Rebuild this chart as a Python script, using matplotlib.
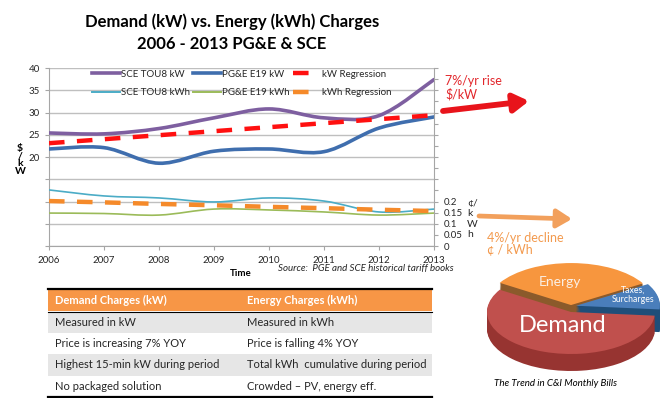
import matplotlib
matplotlib.use("Agg")
import matplotlib.pyplot as plt
from matplotlib.path import Path
from matplotlib.patches import PathPatch, Rectangle
from matplotlib.lines import Line2D

plt.rcParams['font.family'] = ['Lato', 'DejaVu Sans']

# data
years = [2006, 2007, 2008, 2009, 2010, 2011, 2012, 2013]
sce_kw = [25.4, 25.2, 26.4, 28.8, 30.8, 28.8, 29.3, 37.4]
pge_kw = [21.8, 22.1, 18.6, 21.3, 21.8, 21.2, 26.5, 29.0]
kw_reg = [23.1, 24.0, 24.9, 25.8, 26.7, 27.6, 28.5, 29.4]
sce_kwh = [0.252, 0.225, 0.216, 0.198, 0.216, 0.202, 0.153, 0.166]
pge_kwh = [0.148, 0.146, 0.139, 0.166, 0.162, 0.153, 0.139, 0.148]
kwh_reg = [0.202, 0.196, 0.189, 0.183, 0.176, 0.170, 0.163, 0.157]

left_ticks = [0, 5, 10, 15, 20, 25, 30, 35, 40]
left_labels = ['', '', '', '', '20', '25', '30', '35', '40']
right_ticks = [i * 0.05 for i in range(17)]
right_labels = ['0', '0.05', '0.1', '0.15', '0.2'] + [''] * 12

table_head = ['Demand Charges (kW)', 'Energy Charges (kWh)']
table_col1 = ['Measured in kW', 'Price is increasing 7% YOY',
              'Highest 15-min kW during period', 'No packaged solution']
table_col2 = ['Measured in kWh', 'Price is falling 4% YOY',
              'Total kWh  cumulative during period', 'Crowded \u2013 PV, energy eff.']

pie_labels = ['Taxes,\nSurcharges', 'Energy', 'Demand']
pie_vals = [10, 32.5, 57.5]

W, H = 666, 398
fig = plt.figure(figsize=(W / 100, H / 100), dpi=100)

PURPLE = '#7E5FA0'
BLUE = '#3F6EAE'
LBLUE = '#4BACC6'
GREEN = '#9BBB59'
RED = '#FF1010'
ORANGE = '#F58A2A'
GRID = '#BFBFBF'
TXT = '#262626'


def smooth(x, y):
    # catmull-rom style bezier through the data points (like excel smoothed lines)
    pts = list(zip(x, y))
    verts = [pts[0]]
    codes = [Path.MOVETO]
    n = len(pts)
    for i in range(n - 1):
        p0 = pts[max(i - 1, 0)]
        p1 = pts[i]
        p2 = pts[i + 1]
        p3 = pts[min(i + 2, n - 1)]
        c1 = (p1[0] + (p2[0] - p0[0]) / 6, p1[1] + (p2[1] - p0[1]) / 6)
        c2 = (p2[0] - (p3[0] - p1[0]) / 6, p2[1] - (p3[1] - p1[1]) / 6)
        verts += [c1, c2, p2]
        codes += [Path.CURVE4] * 3
    return Path(verts, codes)


# overlay axes in pixel coords for table + arrows
ov = fig.add_axes([0, 0, 1, 1])
ov.set_xlim(0, W)
ov.set_ylim(H, 0)
ov.axis('off')

# main chart
ax = fig.add_axes([49 / W, 1 - 246 / H, 385 / W, 178 / H])
ax.patch.set_alpha(0)
ax2 = ax.twinx()

ax.set_xlim(2006, 2013)
ax.set_ylim(0, 40)
ax.set_yticks(left_ticks)
ax.set_yticklabels(left_labels)
ax.set_xticks(years)
ax.set_xticklabels([str(y) for y in years])
ax.grid(axis='y', color=GRID, lw=1.0)
ax.set_axisbelow(True)
for s in ['top', 'right']:
    ax.spines[s].set_visible(False)
for s in ['left', 'bottom']:
    ax.spines[s].set_color('#A6A6A6')
ax.tick_params(axis='both', labelsize=7, colors='#A6A6A6', labelcolor=TXT, length=3)
ax.tick_params(axis='x', pad=4)

ax2.set_ylim(0, 0.8)
ax2.set_yticks(right_ticks)
ax2.set_yticklabels(right_labels)
ax2.tick_params(axis='y', labelsize=7, colors='#A6A6A6', labelcolor=TXT, length=3, pad=4)
for s in ['top', 'left', 'bottom']:
    ax2.spines[s].set_visible(False)
ax2.spines['right'].set_color('#A6A6A6')

ax.add_patch(PathPatch(smooth(years, sce_kw), fill=False, ec=PURPLE, lw=2.6, capstyle='round', zorder=3))
ax.add_patch(PathPatch(smooth(years, pge_kw), fill=False, ec=BLUE, lw=2.6, capstyle='round', zorder=3))
ax.plot(years, kw_reg, color=RED, lw=3.2, dashes=(3.5, 2.8), zorder=4)
ax2.add_patch(PathPatch(smooth(years, sce_kwh), fill=False, ec=LBLUE, lw=1.2, zorder=3))
ax2.add_patch(PathPatch(smooth(years, pge_kwh), fill=False, ec=GREEN, lw=1.2, zorder=3))
ax2.plot(years, kwh_reg, color=ORANGE, lw=3.2, dashes=(3.5, 2.8), zorder=4)

handles = [
    Line2D([], [], color=PURPLE, lw=2.6),
    Line2D([], [], color=LBLUE, lw=1.4),
    Line2D([], [], color=BLUE, lw=2.6),
    Line2D([], [], color=GREEN, lw=1.4),
    Line2D([], [], color=RED, lw=3.2, dashes=(3.5, 2.8)),
    Line2D([], [], color=ORANGE, lw=3.2, dashes=(3.5, 2.8)),
]
labels = ['SCE TOU8 kW', 'SCE TOU8 kWh', 'PG&E E19 kW', 'PG&E E19 kWh',
          'kW Regression', 'kWh Regression']
ax2.legend(handles, labels, ncol=3, frameon=False, fontsize=7, loc='upper left',
           bbox_to_anchor=(0.09, 1.04), handlelength=2.8, handletextpad=0.15,
           columnspacing=0.35, labelspacing=1.0, labelcolor=TXT)

# titles and labels
fig.text(232 / W, 1 - 22 / H, 'Demand (kW) vs. Energy (kWh) Charges', ha='center', va='center',
         fontsize=12, fontweight='bold', color='black')
fig.text(232 / W, 1 - 44 / H, '2006 - 2013 PG&E & SCE', ha='center', va='center',
         fontsize=12, fontweight='bold', color='black')
fig.text(20 / W, 1 - 160 / H, '$\n/\nk\nW', ha='center', va='center', fontsize=7.5,
         fontweight='bold', linespacing=0.8, color='black')
fig.text(467 / W, 1 - 219 / H, '\u00a2/\nk\nW\nh', ha='left', va='center', fontsize=7.5,
         linespacing=1.2, color=TXT)
fig.text(241 / W, 1 - 273 / H, 'Time', ha='center', va='center', fontsize=7,
         fontweight='bold', color='black')
fig.text(278 / W, 1 - 268 / H, 'Source:  PGE and SCE historical tariff books', ha='left',
         va='center', fontsize=7, style='italic', color=TXT)

# annotations
ov.text(445, 88, '7%/yr rise\n$/kW', color='#E2262B', fontsize=9, va='center', ha='left',
        linespacing=1.1)
ov.annotate('', xy=(529, 101), xytext=(443, 111),
            arrowprops=dict(arrowstyle='-|>,head_length=0.9,head_width=0.55', lw=4.2,
                            color='#E8141B', shrinkA=0, shrinkB=0))
ov.text(487, 244, '4%/yr decline\n\u00a2 / kWh', color='#F39A4E', fontsize=9, va='center',
        ha='left', linespacing=1.1)
ov.annotate('', xy=(572, 219), xytext=(479, 216),
            arrowprops=dict(arrowstyle='-|>,head_length=0.9,head_width=0.55', lw=3.4,
                            color='#F2A05C', shrinkA=0, shrinkB=0))

# table
tx0, tx1, col2 = 48, 432, 245
ov.add_patch(Rectangle((tx0, 289), tx1 - tx0, 22, color='#F79646', lw=0))
ov.plot([tx0, tx1], [288.5, 288.5], color='black', lw=1.6)
ov.plot([tx0, tx1], [311.5, 311.5], color='black', lw=0.8)
ov.text(55, 300.5, table_head[0], color='white', fontsize=8, fontweight='bold', va='center')
ov.text(col2 + 2, 300.5, table_head[1], color='white', fontsize=8, fontweight='bold', va='center')
row_h = 21.2
for i, (a, b) in enumerate(zip(table_col1, table_col2)):
    y0 = 312 + i * row_h
    if i % 2 == 0:
        ov.add_patch(Rectangle((tx0, y0), tx1 - tx0, row_h, color='#E6E6E6', lw=0))
    ov.text(55, y0 + row_h / 2, a, color=TXT, fontsize=8, va='center')
    ov.text(col2 + 2, y0 + row_h / 2, b, color=TXT, fontsize=8, va='center')
ov.plot([tx0, tx1], [396.5, 396.5], color='black', lw=1.6)

# 3d pie (stacked layers, energy + taxes raised a bit)
pax = fig.add_axes([466 / W, 0, 200 / W, 148 / H])
top_cols = ['#4A7EBB', '#F7963E', '#C0504D']
side_cols = ['#1F4E79', '#8B5A2B', '#973431']
explode = [0.06, 0.03, 0]
start = -5
step = 0.027


def pie_layer(yc, cols, keep):
    wedges, _ = pax.pie(pie_vals, colors=cols, center=(0, yc), radius=1, startangle=start,
                        explode=explode, wedgeprops=dict(lw=0))
    for i, w in enumerate(wedges):
        w.set_visible(i in keep)


for k in range(15, 0, -1):
    pie_layer(-k * step, side_cols, (0, 1, 2))
pie_layer(0, top_cols, (2,))
for k in range(0, 5):
    pie_layer(k * step, side_cols, (0, 1))
pie_layer(5 * step, top_cols, (0, 1))

pax.set_aspect('auto')
pax.set_xlim(-1.25, 1.131)
pax.set_ylim(-2.048, 1.476)
pax.axis('off')
pax.text(-0.1, -0.33, pie_labels[2], color='white', fontsize=17, ha='center', va='center')
pax.text(-0.13, 0.71, pie_labels[1], color='#FBEFE3', fontsize=10, ha='center', va='center')
pax.text(0.74, 0.4, pie_labels[0], color='white', fontsize=6.3, ha='center', va='center',
         linespacing=1.05)
fig.text(555 / W, 1 - 384 / H, 'The Trend in C&I Monthly Bills', ha='center', va='center',
         fontsize=7, style='italic', color='black')

fig.savefig('out.png', dpi=100)
